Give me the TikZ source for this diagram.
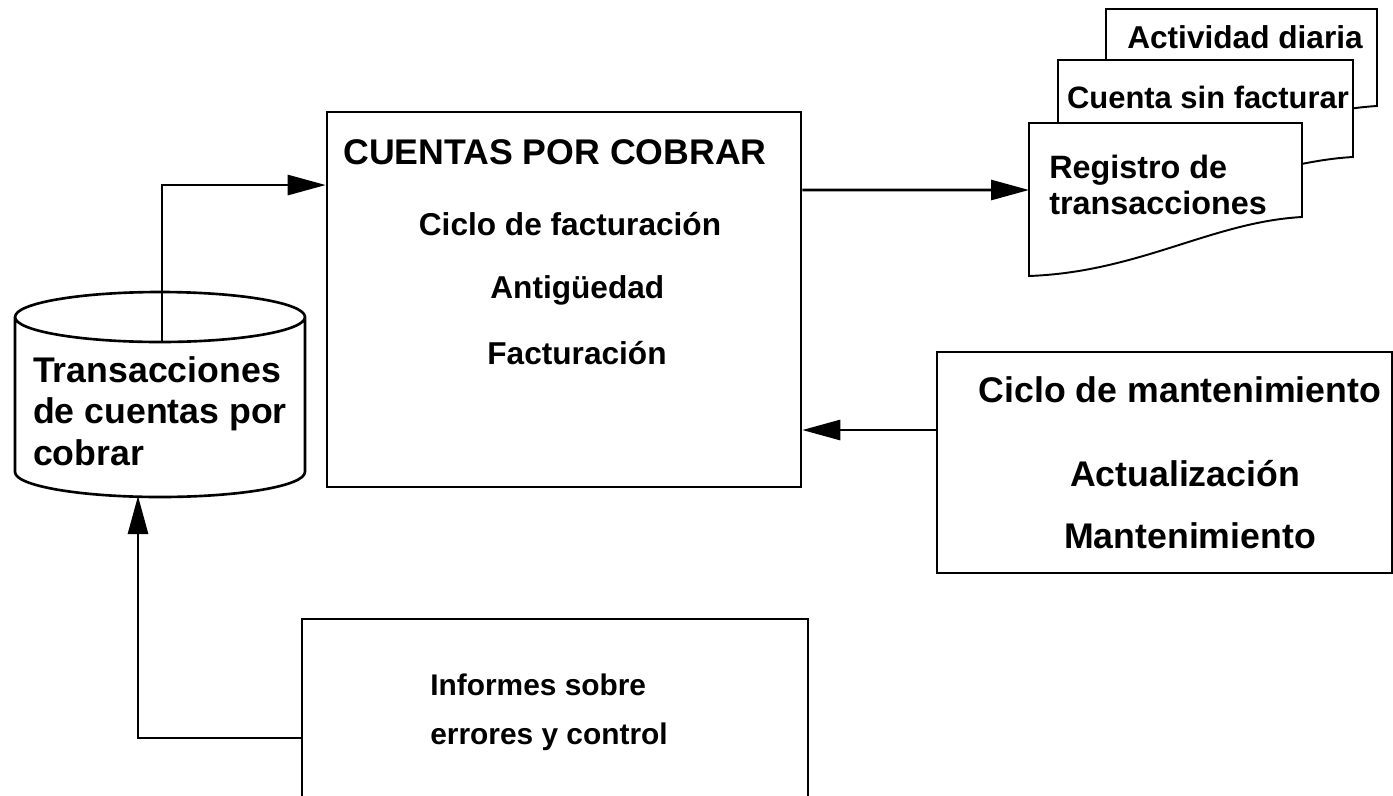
\documentclass[tikz,border=0pt]{standalone}
\usepackage{fontspec}
\setmainfont{Liberation Sans}
\usetikzlibrary{arrows.meta}

\begin{document}
\begin{tikzpicture}[x=0.02cm, y=-0.02cm,
		box/.style={draw, line width=1.5pt, inner sep=0pt},
		lbl/.style={font=\bfseries\fontsize{18}{21}\selectfont, inner sep=0pt},
		big/.style={font=\bfseries\fontsize{20.3}{23.5}\selectfont, inner sep=0pt},
		arr/.style={-{Triangle[length=0.76cm, width=0.4cm]}, line width=1.6pt}]
			\useasboundingbox (0,0) rectangle (1393,795);

			\node[box, minimum width=9.48cm, minimum height=7.5cm] (cxc) at (564,299.5) {};
			\node[big, anchor=west] (title) at (343,152) {CUENTAS POR COBRAR};
			\node[lbl] (ciclo) at (570,224) {Ciclo de facturación};
			\node[lbl, anchor=west] (antig) at (490,290) {Antigüedad};
			\node[lbl, anchor=west] (fact) at (487,353) {Facturación};

			\draw[line width=1.5pt] (15,317) -- (15,472) arc[start angle=180, end angle=360, x radius=2.9cm, y radius=0.5cm]
				-- (305,317) arc[start angle=0, end angle=180, x radius=2.9cm, y radius=0.5cm]
				arc[start angle=180, end angle=360, x radius=2.9cm, y radius=0.5cm];
			\node[big, align=left] (cyl) at (160,411) {Transacciones\\de cuentas por\\cobrar};
			\coordinate (cyltop) at (162,341);
			\coordinate (cylbot) at (138,496);

			\foreach \l/\t/\r/\b in {1106/9/1377/106, 1058/60/1353/157, 1029/123/1302/217} {
				\draw[line width=1.1pt, fill=white] (\l,\t) -- (\r,\t) -- (\r,\b) .. controls (\r-90,\b+5) and (\l+110,\b+55) .. (\l,\b+59) -- cycle;
			}
			\node[lbl] (act) at (1245,37) {Actividad diaria};
			\node[lbl, font=\bfseries\fontsize{17.6}{21}\selectfont] (csf) at (1208,97) {Cuenta sin facturar};
			\node[lbl, anchor=west, align=left, font=\bfseries\fontsize{18.4}{20.5}\selectfont] (reg) at (1049,185) {Registro de\\transacciones};
			\coordinate (regin) at (1029,190);

			\node[box, minimum width=9.1cm, minimum height=4.42cm] (mant) at (1164.5,462.5) {};
			\node[big] (cman) at (1180,390) {Ciclo de mantenimiento};
			\node[big] (actu) at (1185,474) {Actualización};
			\node[big] (mto) at (1190,536) {Mantenimiento};

			\node[box, minimum width=10.12cm, minimum height=3.56cm] (inf) at (555,708) {};
			\node[lbl, anchor=west, align=left, font=\bfseries\fontsize{17}{28}\selectfont] (inftxt) at (430,712) {Informes sobre\\errores y control};

			\draw[arr] (cyltop) |- ([yshift=2.29cm]cxc.west);
			\draw[arr] ([yshift=2.19cm]cxc.east) -- (regin);
			\draw[arr] ([yshift=0.65cm]mant.west) -- ([yshift=0.65cm]mant.west -| cxc.east);
			\draw[arr] ([yshift=-0.6cm]inf.west) -| (cylbot);
		\end{tikzpicture}
\end{document}
